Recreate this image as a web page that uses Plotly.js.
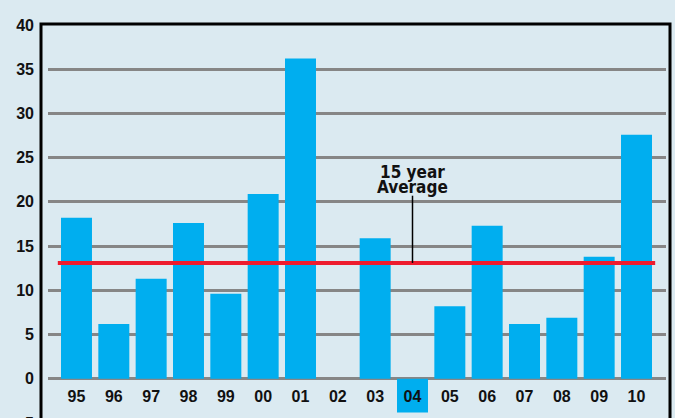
<!DOCTYPE html>
<html>
<head>
<meta charset="utf-8">
<script src="https://cdn.plot.ly/plotly-3.0.1.min.js"></script>
<style>
html,body{margin:0;padding:0;overflow:hidden;background:#dbeaf1;}
#chart{width:675px;height:463px;}
</style>
</head>
<body>
<div id="chart"></div>
<script>
var years = ["95","96","97","98","99","00","01","02","03","04","05","06","07","08","09","10"];
var values = [18.2, 6.2, 11.3, 17.6, 9.6, 20.9, 36.2, 0, 15.9, -3.8, 8.2, 17.3, 6.2, 6.9, 13.8, 27.6];
var average = 13.1;
var avgLabelLines = ["15 year", "Average"];
var yTicks = [-5, 0, 5, 10, 15, 20, 25, 30, 35, 40];

var bg = "#dbeaf1";
var tickFont = {family: "Liberation Sans, Arial, sans-serif", size: 16, color: "#111", weight: "bold"};
var noteFont = {family: "Liberation Sans Narrow, DejaVu Sans Condensed, Arial Narrow, sans-serif", size: 17, color: "#111", weight: "bold"};

var trace = {
  type: "bar",
  x: years,
  y: values,
  marker: {color: "#00aeef", line: {width: 0}},
  hoverinfo: "x+y"
};

var layout = {
  width: 675,
  height: 463,
  margin: {l: 48, r: 9, t: 25, b: 40},
  paper_bgcolor: bg,
  plot_bgcolor: bg,
  showlegend: false,
  bargap: 0.17,
  xaxis: {
    type: "category",
    range: [-0.763, 15.79],
    anchor: "free",
    position: 5/45,
    showgrid: false,
    zeroline: false,
    showline: false,
    ticks: "",
    ticklabelstandoff: 6,
    tickfont: tickFont
  },
  yaxis: {
    range: [-5, 40],
    tickvals: yTicks,
    ticktext: yTicks.map(String),
    showgrid: true,
    gridcolor: "#868686",
    gridwidth: 3,
    zeroline: true,
    zerolinecolor: "#868686",
    zerolinewidth: 3,
    showline: false,
    ticks: "",
    ticklabelstandoff: 13,
    tickfont: tickFont
  },
  shapes: [
    {type: "line", xref: "x", yref: "y", x0: -0.5, x1: years.length - 0.5, y0: average, y1: average,
     line: {color: "#ee1c2e", width: 4}, layer: "above"},
    {type: "line", xref: "x", yref: "y", x0: 9, x1: 9, y0: average, y1: 20.7,
     line: {color: "#000", width: 1.5}, layer: "above"},
    {type: "rect", xref: "paper", yref: "paper", x0: -7/618, x1: 622/618, y0: -0.3, y1: 399/398,
     line: {color: "#000", width: 3}, fillcolor: "rgba(0,0,0,0)", layer: "above"}
  ],
  annotations: [
    {xref: "x", yref: "y", x: 9, y: 23.4, text: avgLabelLines[0], showarrow: false,
     xanchor: "center", yanchor: "middle", font: noteFont},
    {xref: "x", yref: "y", x: 9, y: 21.65, text: avgLabelLines[1], showarrow: false,
     xanchor: "center", yanchor: "middle", font: noteFont}
  ]
};

Plotly.newPlot("chart", [trace], layout, {displayModeBar: false, staticPlot: true});
</script>
</body>
</html>
